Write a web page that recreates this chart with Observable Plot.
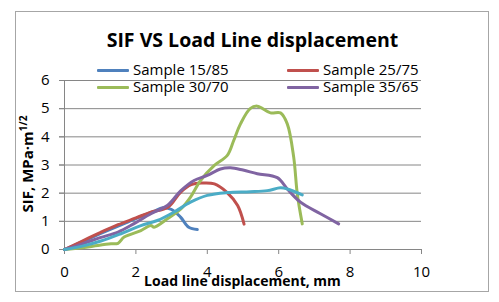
<!DOCTYPE html>
<html>
<head>
<meta charset="utf-8">
<script src="https://cdn.jsdelivr.net/npm/d3@7"></script>
<script src="https://cdn.jsdelivr.net/npm/@observablehq/plot@0.6"></script>
<style>
  html, body { margin: 0; padding: 0; background: #fff; }
  #wrap { position: relative; width: 499px; height: 302px; font-family: "Open Sans", Lato, sans-serif; overflow: hidden; }
  #frame { position: absolute; left: 15px; top: 11px; width: 474px; height: 281px; border: 1px solid #a6a6a6; box-sizing: border-box; }
  #title { position: absolute; left: 0; width: 505px; top: 27px; text-align: center; font-weight: bold; font-size: 19.5px; color: #000; line-height: 26px; }
  .leg { position: absolute; font-size: 15px; line-height: 18px; color: #000; white-space: nowrap; }
  .leg span.sw { display: inline-block; width: 32px; height: 3px; vertical-align: middle; margin-right: 4px; border-radius: 1px; }
  #xlabel { position: absolute; left: 0; width: 485px; top: 272px; text-align: center; font-weight: bold; font-size: 14px; line-height: 18px; }
  #yanchor { position: absolute; left: 27px; top: 164px; width: 0; height: 0; }
  #ylabel { position: absolute; left: 0; top: 0; transform: translate(-50%, -50%) rotate(-90deg); font-weight: bold; font-size: 15px; white-space: nowrap; line-height: 18px; }
  #ylabel sup { font-size: 10px; line-height: 0; }
  svg { position: absolute; left: 0; top: 0; }
</style>
</head>
<body>
<div id="wrap">
  <div id="frame"></div>
  <div id="chart"></div>
  <div id="title"></div>
  <div id="legend"></div>
  <div id="xlabel"></div>
  <div id="yanchor"><div id="ylabel">SIF, MPa·m<sup>1/2</sup></div></div>
</div>
<script>
const titleText = "SIF VS Load Line displacement";
const xLabelText = "Load line displacement, mm";
const seriesNames = ["Sample 15/85", "Sample 25/75", "Sample 30/70", "Sample 35/65", ""];
const seriesColors = ["#4F81BD", "#C0504D", "#9BBB59", "#8064A2", "#4BACC6"];
const xTicks = [0, 2, 4, 6, 8, 10];
const yTicks = [0, 1, 2, 3, 4, 5, 6];

const s1585X = [0, 0.5, 1, 1.5, 2, 2.5, 2.75, 3.0, 3.25, 3.48, 3.72];
const s1585Y = [0, 0.28, 0.56, 0.83, 1.1, 1.35, 1.48, 1.42, 1.15, 0.79, 0.71];

const s2575X = [0, 0.5, 1, 1.5, 2, 2.4, 2.9, 3.25, 3.55, 3.85, 4.2, 4.55, 4.85, 5.03];
const s2575Y = [0, 0.3, 0.6, 0.88, 1.12, 1.32, 1.5, 2.03, 2.3, 2.36, 2.33, 2.03, 1.56, 0.9];

const s3070X = [0, 0.5, 0.93, 1.3, 1.5, 1.67, 2.14, 2.42, 2.51, 2.88, 3.26, 3.53, 3.81, 4.19, 4.56, 4.74, 4.93, 5.2, 5.4, 5.77, 6.05, 6.24, 6.42, 6.52, 6.66];
const s3070Y = [0, 0.06, 0.14, 0.2, 0.22, 0.44, 0.67, 0.85, 0.79, 1.09, 1.44, 1.86, 2.45, 2.98, 3.34, 3.87, 4.46, 5.0, 5.09, 4.85, 4.85, 4.46, 3.28, 1.98, 0.91];

const s3565X = [0, 0.5, 1, 1.5, 1.95, 2.42, 2.88, 3.26, 3.63, 4.0, 4.37, 4.65, 5.0, 5.4, 5.96, 6.24, 6.61, 7.17, 7.68];
const s3565Y = [0, 0.2, 0.42, 0.62, 0.92, 1.27, 1.56, 2.09, 2.45, 2.63, 2.86, 2.9, 2.82, 2.69, 2.55, 2.15, 1.68, 1.27, 0.91];

const s5X = [0, 0.5, 1.02, 1.58, 2.14, 2.6, 3.07, 3.53, 4.0, 4.56, 5.2, 5.68, 6.05, 6.24, 6.66];
const s5Y = [0, 0.12, 0.3, 0.56, 0.85, 1.03, 1.33, 1.68, 1.92, 2.02, 2.05, 2.09, 2.19, 2.15, 1.94];

const allX = [s1585X, s2575X, s3070X, s3565X, s5X];
const allY = [s1585Y, s2575Y, s3070Y, s3565Y, s5Y];

const data = [];
allX.forEach((xs, i) => xs.forEach((x, j) => data.push({series: i, x, y: allY[i][j]})));

const gray = "#868686";
const chart = Plot.plot({
  width: 499,
  height: 302,
  marginLeft: 64,
  marginRight: 78,
  marginTop: 80,
  marginBottom: 53,
  style: {fontFamily: "'Open Sans', Lato, sans-serif", fontSize: "14px", color: "#000", background: "transparent"},
  x: {domain: [0, 10], ticks: xTicks, label: null},
  y: {domain: [0, 6], ticks: yTicks, label: null},
  marks: [
    Plot.ruleY(yTicks.filter(d => d > 0), {stroke: gray, strokeWidth: 1, insetLeft: -5}),
    Plot.axisX({ticks: xTicks, tickSize: 5, tickPadding: 12, stroke: gray, fill: "#000", fontSize: 15, label: null, tickFormat: d3.format("d")}),
    Plot.axisY({ticks: yTicks, tickSize: 5, tickPadding: 10, stroke: gray, fill: "#000", fontSize: 15, label: null, tickFormat: d3.format("d")}),
    Plot.ruleY([0], {stroke: gray, strokeWidth: 1}),
    Plot.ruleX([0], {stroke: gray, strokeWidth: 1}),
    ...allX.map((_, i) => Plot.line(data.filter(d => d.series === i), {
      x: "x", y: "y", stroke: seriesColors[i], strokeWidth: 3, curve: "catmull-rom", strokeLinecap: "round", strokeLinejoin: "round"
    }))
  ]
});
document.getElementById("chart").appendChild(chart);
document.getElementById("title").textContent = titleText;
document.getElementById("xlabel").textContent = xLabelText;

const legPos = [[97, 60], [287, 60], [97, 77], [287, 77]];
const legend = document.getElementById("legend");
seriesNames.forEach((name, i) => {
  if (!name) return;
  const d = document.createElement("div");
  d.className = "leg";
  d.style.left = legPos[i][0] + "px";
  d.style.top = legPos[i][1] + "px";
  d.innerHTML = `<span class="sw" style="background:${seriesColors[i]}"></span>${name}`;
  legend.appendChild(d);
});
</script>
</body>
</html>
